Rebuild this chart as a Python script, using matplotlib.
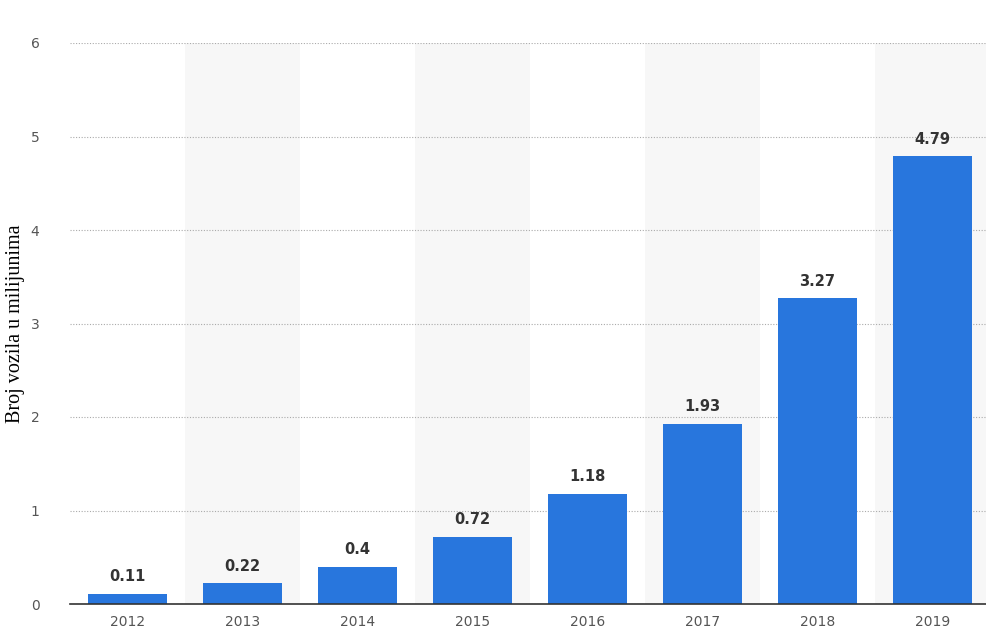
import matplotlib
matplotlib.use("Agg")
import matplotlib.pyplot as plt

years = ["2012", "2013", "2014", "2015", "2016", "2017", "2018", "2019"]
vehicles = [0.11, 0.22, 0.4, 0.72, 1.18, 1.93, 3.27, 4.79]
yticks = [0, 1, 2, 3, 4, 5, 6]

fig = plt.figure(figsize=(9.87, 6.32), dpi=100)
ax = fig.add_axes([70 / 987, 28 / 632, 920 / 987, 561 / 632])

x = list(range(len(years)))

# shaded bands behind every second year
for i in x:
    if i % 2 == 1:
        ax.axvspan(i - 0.5, i + 0.5, color="#f7f7f7", zorder=0, lw=0)

ax.bar(x, vehicles, width=0.69, color="#2876dd", zorder=3)

for i, v in zip(x, vehicles):
    ax.text(i, v + 0.1, f"{v:g}", ha="center", va="bottom",
            fontsize=10.5, fontweight="bold", color="#333333",
            family="DejaVu Sans", zorder=4)

ax.set_xlim(-0.5, len(years) - 0.5)
ax.set_ylim(0, 6)
ax.set_yticks(yticks)
ax.set_xticks(x)
ax.set_xticklabels(years)
ax.yaxis.grid(True, linestyle=(0, (1, 1.5)), color="#aaaaaa", lw=0.8, zorder=1)
ax.set_axisbelow(True)

for s in ["top", "right", "left"]:
    ax.spines[s].set_visible(False)
ax.spines["bottom"].set_color("#333333")
ax.spines["bottom"].set_linewidth(1.2)
ax.spines["bottom"].set_zorder(5)

ax.tick_params(axis="both", length=0, colors="#555555", labelsize=10)
ax.tick_params(axis="y", pad=22)
ax.tick_params(axis="x", pad=8)

ax.set_ylabel("Broj vozila u milijunima", family="Liberation Serif",
              fontsize=14.5, color="black", labelpad=4)

fig.savefig("out.png", dpi=100)
